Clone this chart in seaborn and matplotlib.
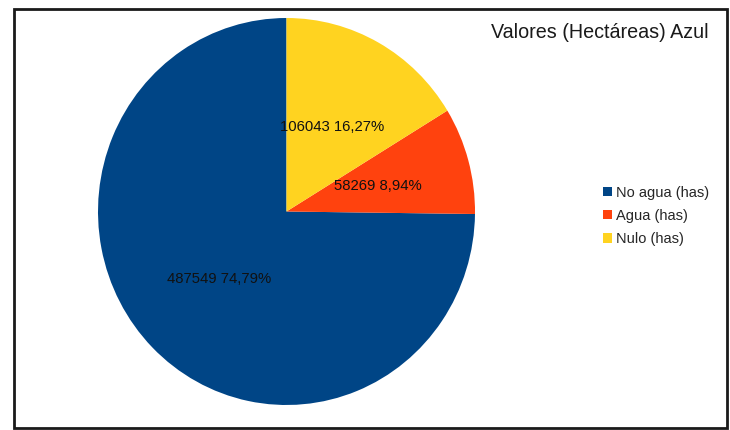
import matplotlib
matplotlib.use('Agg')
import matplotlib.pyplot as plt
import seaborn as sns
from matplotlib.patches import Patch, Rectangle

# datos del grafico
categorias = ['No agua (has)', 'Agua (has)', 'Nulo (has)']
hectareas = [487549, 58269, 106043]
colores = ['#004586', '#ff420e', '#ffd320']
titulo = 'Valores (Hectáreas) Azul'

sns.set_theme(style='white')
plt.rcParams['font.family'] = ['Liberation Sans', 'DejaVu Sans']

W, H = 730, 430
fig = plt.figure(figsize=(W / 100, H / 100), dpi=100)
fig.patch.set_facecolor('white')

# eje del pastel, ligeramente eliptico como en la imagen
ax = fig.add_axes([98 / W, (H - 405) / H, 377 / W, 387 / H])

vals = iter(hectareas)
def fmt(p):
    return f'{next(vals)} {p:.2f}%'.replace('.', ',')

wedges, texts, autotexts = ax.pie(hectareas, colors=colores, startangle=90,
                                  counterclock=True, autopct=fmt, pctdistance=0.5,
                                  wedgeprops={'linewidth': 0},
                                  textprops={'fontsize': 10.7, 'color': '#111111'})
ax.set_aspect('auto')
ax.set_xlim(-1, 1)
ax.set_ylim(-1, 1)
ax.axis('off')

fig.text(600 / W, 1 - 33 / H, titulo, ha='center', va='center',
         fontsize=14.2, color='#1a1a1a')

handles = [Patch(facecolor=c, edgecolor='none') for c in colores]
fig.legend(handles, categorias, loc='center left',
           bbox_to_anchor=(603 / W, 1 - 216 / H), frameon=False,
           handlelength=0.6, handleheight=0.6, handletextpad=0.3,
           labelspacing=0.62, fontsize=10.5, borderaxespad=0, borderpad=0)

# marco exterior
fig.add_artist(Rectangle((14 / W, 1 - 428.3 / H), 713 / W, (428.3 - 8.7) / H,
                         transform=fig.transFigure, fill=False, lw=2,
                         edgecolor='#1a1a1a'))

fig.savefig('out.png', dpi=100)
